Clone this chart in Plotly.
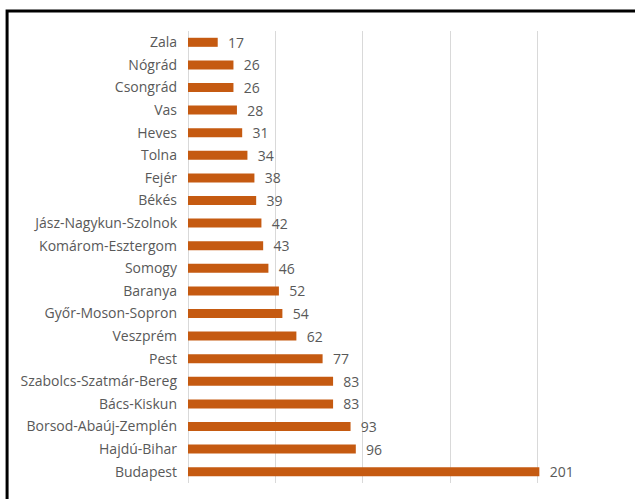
import plotly.graph_objects as go

# Counties and their values, top to bottom
counties = [
    "Zala", "Nógrád", "Csongrád", "Vas", "Heves", "Tolna", "Fejér", "Békés",
    "Jász-Nagykun-Szolnok", "Komárom-Esztergom", "Somogy", "Baranya",
    "Győr-Moson-Sopron", "Veszprém", "Pest", "Szabolcs-Szatmár-Bereg",
    "Bács-Kiskun", "Borsod-Abaúj-Zemplén", "Hajdú-Bihar", "Budapest",
]
values = [17, 26, 26, 28, 31, 34, 38, 39, 42, 43, 46, 52, 54, 62, 77, 83, 83, 93, 96, 201]
grid_ticks = [0, 50, 100, 150, 200, 250]

BAR_COLOR = "#C55A11"
TEXT_COLOR = "#595959"
FONT = "Open Sans"

fig = go.Figure(
    go.Bar(
        x=values,
        y=counties,
        orientation="h",
        marker=dict(color=BAR_COLOR, line=dict(width=0)),
        width=0.4,
        text=[f"  {v}" for v in values],
        textposition="outside",
        constraintext="none",
        textfont=dict(family=FONT, size=14, color=TEXT_COLOR),
        cliponaxis=False,
    )
)

fig.update_layout(
    width=635,
    height=499,
    margin=dict(l=188, r=10, t=31, b=16),
    paper_bgcolor="white",
    plot_bgcolor="white",
    showlegend=False,
    font=dict(family=FONT, size=14, color=TEXT_COLOR),
    xaxis=dict(
        range=[0, 250],
        tickvals=grid_ticks,
        showticklabels=False,
        showgrid=True,
        gridcolor="#d9d9d9",
        gridwidth=1,
        zeroline=True,
        zerolinecolor="#d9d9d9",
        zerolinewidth=1,
        showline=False,
        fixedrange=True,
    ),
    yaxis=dict(
        categoryorder="array",
        categoryarray=counties,
        autorange="reversed",
        showgrid=False,
        showline=False,
        ticks="",
        ticklabelstandoff=10,
        tickfont=dict(family=FONT, size=14, color=TEXT_COLOR),
    ),
    shapes=[
        # dark frame around the chart
        dict(
            type="rect",
            xref="paper",
            yref="paper",
            x0=-0.414,
            x1=1.2,
            y0=-0.2,
            y1=1.044,
            line=dict(color="black", width=3),
            fillcolor="rgba(0,0,0,0)",
            layer="above",
        )
    ],
)

fig.write_html("out.html")
